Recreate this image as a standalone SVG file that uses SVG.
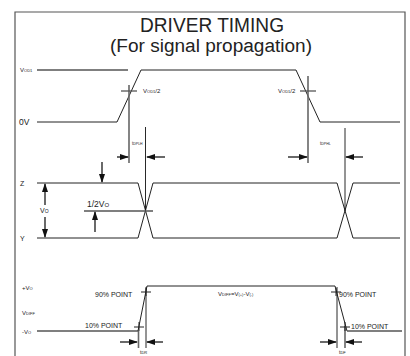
<svg xmlns="http://www.w3.org/2000/svg" width="410" height="356" viewBox="0 0 410 356">
<style>
.lvl{stroke:#555;stroke-width:1.3;fill:none}
.sig{stroke:#222;stroke-width:1;fill:none}
.thin{stroke:#111;stroke-width:0.9;fill:none}
.gv{stroke:#666;stroke-width:1.6;fill:none}
.arr{stroke:#444;stroke-width:1.6;fill:none;marker-end:url(#ah)}
.t{font-family:"Liberation Sans",Arial,sans-serif;fill:#222}
.s6{font-size:6px}
.s7{font-size:7px}
.s8{font-size:8.5px}
</style>
<defs>
<marker id="ah" markerUnits="userSpaceOnUse" markerWidth="9" markerHeight="6" refX="8" refY="3" orient="auto">
<path d="M0,0 L9,3 L0,6 z" fill="#111"/>
</marker>
</defs>
<g id="frame">
<path d="M15,356 V12 H405 V356" stroke="#555" stroke-width="1.2" fill="none"/>
</g>
<g id="title">
<text class="t" x="140" y="31.5" font-size="20" textLength="144" lengthAdjust="spacingAndGlyphs">DRIVER TIMING</text>
<text class="t" x="110" y="51.5" font-size="18" textLength="202" lengthAdjust="spacingAndGlyphs">(For signal propagation)</text>
</g>
<g id="driver-input">
<line class="lvl" x1="37" y1="70" x2="128" y2="70"/>
<path class="sig" d="M37,122 H117 L141,70 H296 L320,122 H400"/>
<line class="gv" x1="129" y1="85" x2="129" y2="163"/>
<line class="lvl" x1="121" y1="91" x2="137" y2="91"/>
<line class="gv" x1="308" y1="76" x2="308" y2="163"/>
<line class="lvl" x1="300" y1="91" x2="316" y2="91"/>
<text class="t s6" x="20" y="72">V<tspan font-size="4">OD1</tspan></text>
<text class="t s8" x="19" y="125">0V</text>
<text class="t s6" x="143" y="93">V<tspan font-size="4">OD1</tspan>/2</text>
<text class="t s6" x="278" y="93">V<tspan font-size="4">OD1</tspan>/2</text>
</g>
<g id="driver-output">
<path class="sig" d="M37,183 H138 L153,238 H337 L353,183 H400"/>
<path class="sig" d="M37,238 H138 L153,183 H337 L353,238 H400"/>
<line class="thin" x1="145.5" y1="127" x2="145.5" y2="211"/>
<line class="thin" x1="345" y1="128" x2="345" y2="211"/>
<line class="lvl" x1="84" y1="211" x2="153" y2="211"/>
<text class="t s7" x="20" y="186">Z</text>
<text class="t s7" x="20" y="241">Y</text>
<text class="t s7" x="40" y="213">V<tspan font-size="5">O</tspan></text>
<text class="t s8" x="87" y="207">1/2V<tspan font-size="6">O</tspan></text>
<text class="t" font-size="4.5" x="132" y="145">t<tspan font-size="3.5">DPLH</tspan></text>
<text class="t" font-size="4.5" x="320" y="145">t<tspan font-size="3.5">DPHL</tspan></text>
</g>
<g id="differential">
<line class="lvl" x1="37" y1="331" x2="138" y2="331"/>
<path class="sig" d="M138,331 L147,286 H335 L347,331"/>
<line class="lvl" x1="347" y1="331" x2="402" y2="331"/>
<line class="thin" x1="146" y1="287" x2="146" y2="348"/>
<line class="gv" x1="138.5" y1="331" x2="138.5" y2="348"/>
<line class="thin" x1="337" y1="287" x2="337" y2="348"/>
<line class="gv" x1="345" y1="326" x2="345" y2="348"/>
<path class="sig" d="M141,292 H151 M146,288 V296 M134,327 H144 M139,322 V331 M331,292 H341 M336,288 V296 M340,327 H350 M345,322 V331"/>
<text class="t s6" x="22" y="290">+V<tspan font-size="4">O</tspan></text>
<text class="t s6" x="22" y="315">V<tspan font-size="4">DIFF</tspan></text>
<text class="t s6" x="22" y="334">-V<tspan font-size="4">O</tspan></text>
<text class="t s7" x="95" y="297">90% POINT</text>
<text class="t s7" x="85" y="328">10% POINT</text>
<text class="t s7" x="339" y="297">90% POINT</text>
<text class="t s7" x="351" y="329">10% POINT</text>
<text class="t s6" x="218" y="296">V<tspan font-size="4">DIFF</tspan>=V<tspan font-size="4">(+)</tspan>-V<tspan font-size="4">(-)</tspan></text>
<text class="t" font-size="5" x="140" y="354">t<tspan font-size="4">DR</tspan></text>
<text class="t" font-size="5" x="339" y="354">t<tspan font-size="4">DF</tspan></text>
</g>
<g id="connectors">
<line class="arr" x1="117" y1="157" x2="128" y2="157"/>
<line class="arr" x1="165" y1="157" x2="147" y2="157"/>
<line class="arr" x1="288" y1="157" x2="307" y2="157"/>
<line class="arr" x1="363" y1="157" x2="346" y2="157"/>
<line class="arr" x1="102" y1="162" x2="102" y2="182"/>
<line class="arr" x1="95" y1="232" x2="95" y2="212"/>
<line class="arr" x1="45" y1="205" x2="45" y2="184"/>
<line class="arr" x1="45" y1="217" x2="45" y2="237"/>
<line class="arr" x1="120" y1="342" x2="137" y2="342"/>
<line class="arr" x1="163" y1="342" x2="147" y2="342"/>
<line class="arr" x1="320" y1="342" x2="336" y2="342"/>
<line class="arr" x1="362" y1="342" x2="346" y2="342"/>
</g>
</svg>
